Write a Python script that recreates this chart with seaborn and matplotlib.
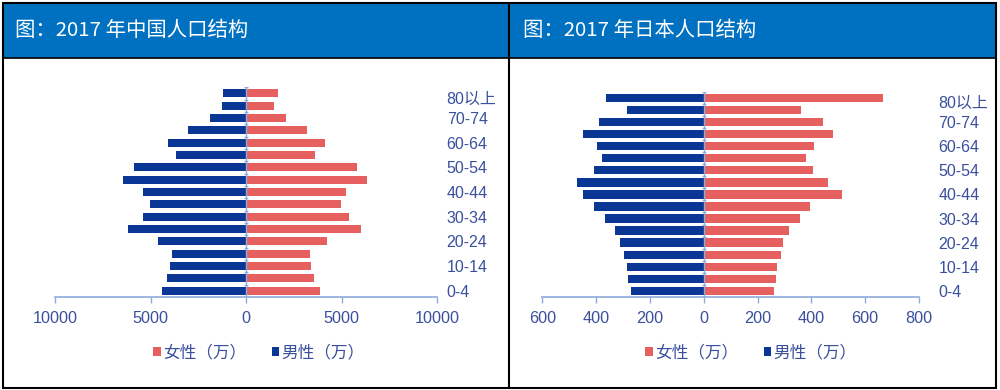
import numpy as np
import pandas as pd
import matplotlib.pyplot as plt
import matplotlib.transforms as mtrans
import seaborn as sns
from matplotlib.patches import Rectangle
from matplotlib.ticker import FuncFormatter

# age groups, top to bottom
ages = ["80以上", "75-79", "70-74", "65-69", "60-64", "55-59", "50-54", "45-49",
        "40-44", "35-39", "30-34", "25-29", "20-24", "15-19", "10-14", "5-9", "0-4"]

# China 2017 (万)
cn_male = [1200, 1270, 1880, 3030, 4060, 3640, 5890, 6460, 5370, 5050, 5370, 6200, 4630, 3870, 3970, 4130, 4390]
cn_female = [1670, 1460, 2070, 3180, 4120, 3600, 5810, 6320, 5230, 4950, 5370, 6000, 4230, 3330, 3390, 3540, 3860]

# Japan 2017 (万)
jp_male = [364, 284, 391, 448, 397, 379, 409, 471, 448, 409, 368, 328, 311, 298, 284, 281, 270]
jp_female = [667, 360, 445, 481, 409, 379, 405, 462, 514, 394, 358, 317, 296, 288, 273, 270, 260]

cn_ticks = [-10000, -5000, 0, 5000, 10000]
jp_ticks = [-600, -400, -200, 0, 200, 400, 600, 800]

titles = ["图：2017 年中国人口结构", "图：2017 年日本人口结构"]
female_lbl = "女性（万）"
male_lbl = "男性（万）"

RED = "#E5605E"
BLUE = "#0A3696"
AXIS = "#8FAADC"
TXT = "#3A4F9E"
HEAD = "#0070C0"

sns.set_style("white")
plt.rcParams["font.family"] = ["Liberation Sans", "Noto Sans CJK SC", "DejaVu Sans"]

W, H = 1000, 390
fig = plt.figure(figsize=(10, 3.9), dpi=100)

# frame and header bands (pixel coordinates)
bg = fig.add_axes([0, 0, 1, 1])
bg.set_xlim(0, W)
bg.set_ylim(H, 0)
bg.axis("off")
bg.add_patch(Rectangle((3, 3), 993, 54.5, facecolor=HEAD, edgecolor="none"))
bg.add_patch(Rectangle((3, 3), 993, 385, facecolor="none", edgecolor="black", lw=1.5))
bg.plot([508.7, 508.7], [3, 388], color="black", lw=1.5)
bg.plot([3, 996], [57.5, 57.5], color="black", lw=1.2)
for x0, t in zip([15, 523], titles):
    bg.text(x0, 30.5, t, color="white", fontsize=14.7, va="center", ha="left",
            family=["Noto Sans CJK SC", "DejaVu Sans"])


def panel(rect, male, female, ticks, width, pad, legend_cx):
    left, top, right, bottom = rect
    ax = fig.add_axes([left / W, 1 - bottom / H, (right - left) / W, (bottom - top) / H])
    ax.patch.set_alpha(0)
    df = pd.DataFrame({
        "age": ages * 2,
        "sex": [female_lbl] * len(ages) + [male_lbl] * len(ages),
        "value": list(female) + [-v for v in male],
    })
    sns.barplot(data=df, x="value", y="age", hue="sex", order=ages,
                hue_order=[female_lbl, male_lbl], palette=[RED, BLUE],
                dodge=False, width=width, errorbar=None, saturation=1,
                orient="h", linewidth=0, ax=ax)
    ax.set_xlim(ticks[0], ticks[-1])
    ax.set_ylim(len(ages) - 0.5, -0.5)
    ax.set_xticks(ticks)
    ax.xaxis.set_major_formatter(FuncFormatter(lambda v, p: f"{abs(v):.0f}"))
    ax.set_xlabel("")
    ax.set_ylabel("")

    # category labels on the right, every other one
    ax.yaxis.tick_right()
    ax.set_yticks(range(len(ages)))
    ax.set_yticklabels([a if i % 2 == 0 else "" for i, a in enumerate(ages)])
    ax.tick_params(axis="y", length=0, pad=pad, labelsize=11.5, labelcolor=TXT)
    ax.tick_params(axis="x", bottom=True, length=4, width=1, color=AXIS, pad=6,
                   labelsize=11.7, labelcolor=TXT)
    first = ax.get_yticklabels()[0]
    first.set_transform(first.get_transform() +
                        mtrans.ScaledTranslation(0, -4 / 100, fig.dpi_scale_trans))
    for s in ["left", "right", "top"]:
        ax.spines[s].set_visible(False)
    ax.spines["bottom"].set_color(AXIS)
    ax.spines["bottom"].set_linewidth(1.2)

    # zero axis with category ticks
    ax.axvline(0, color=AXIS, lw=1, zorder=3)
    span = ticks[-1] - ticks[0]
    ax.hlines(np.arange(-0.5, len(ages)), -0.005 * span, 0.005 * span,
              color=AXIS, lw=1, zorder=3)

    handles, labels = ax.get_legend_handles_labels()
    ax.get_legend().remove()
    fig.legend(handles, labels, loc="center", bbox_to_anchor=(legend_cx / W, 1 - 353 / H),
               ncol=2, frameon=False, handlelength=0.45, handleheight=0.45,
               handletextpad=0.15, columnspacing=1.5, labelcolor=TXT,
               prop={"family": ["Noto Sans CJK SC", "DejaVu Sans"], "size": 12})
    return ax


panel((55, 87.2, 437, 297), cn_male, cn_female, cn_ticks, 0.65, 7, 259)
panel((542.3, 91.7, 919, 297), jp_male, jp_female, jp_ticks, 0.7, 14, 751)

plt.savefig("out.png", dpi=100)
